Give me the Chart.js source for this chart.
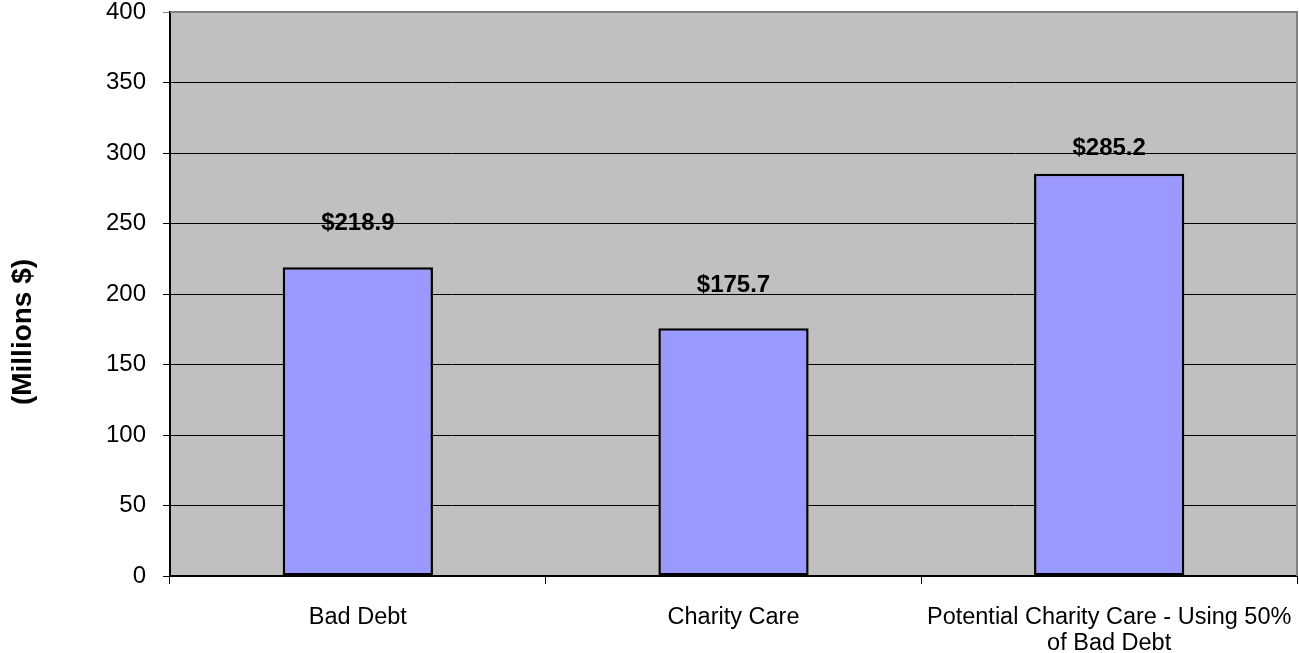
<!DOCTYPE html>
<html>
<head>
<meta charset="utf-8">
<script src="https://cdn.jsdelivr.net/npm/chart.js@4.4.1/dist/chart.umd.min.js"></script>
<style>
    html, body { margin: 0; padding: 0; background: #ffffff; }
    #wrap { width: 1299px; height: 653px; }
</style>
</head>
<body>
<div id="wrap"><canvas id="debtChart" width="1299" height="653"></canvas></div>
<script>
// chart data
const categories = ['Bad Debt', 'Charity Care', ['Potential Charity Care - Using 50%', 'of Bad Debt']];
const amounts = [218.9, 175.7, 285.2];
const amountLabels = ['$218.9', '$175.7', '$285.2'];
const yTicks = [0, 50, 100, 150, 200, 250, 300, 350, 400];
const yTitle = '(Millions $)';

// how far above each bar its label sits (px)
const labelOffsets = [44, 43, 25];

const FONT = '"Liberation Sans", Arial, sans-serif';

// gray plot background + border, drawn before the datasets
const plotBackground = {
    id: 'plotBackground',
    beforeDraw(chart) {
        const { ctx, chartArea } = chart;
        ctx.save();
        ctx.fillStyle = '#c0c0c0';
        ctx.fillRect(chartArea.left, chartArea.top, chartArea.right - chartArea.left, chartArea.bottom - chartArea.top);
        ctx.restore();
    },
    afterDatasetsDraw(chart) {
        const { ctx, chartArea } = chart;
        ctx.save();
        ctx.strokeStyle = '#808080';
        ctx.lineWidth = 2;
        ctx.beginPath();
        ctx.moveTo(chartArea.left, chartArea.top);
        ctx.lineTo(chartArea.right, chartArea.top);
        ctx.lineTo(chartArea.right, chartArea.bottom);
        ctx.stroke();
        ctx.restore();
    }
};

// value labels above the bars and the rotated y title
const barLabels = {
    id: 'barLabels',
    afterDraw(chart) {
        const { ctx } = chart;
        const meta = chart.getDatasetMeta(0);
        ctx.save();
        ctx.fillStyle = '#000000';
        ctx.font = 'bold 24px ' + FONT;
        ctx.textAlign = 'center';
        ctx.textBaseline = 'middle';
        meta.data.forEach((bar, i) => {
            ctx.fillText(amountLabels[i], bar.x, bar.y - labelOffsets[i]);
        });

        ctx.translate(23, 332);
        ctx.rotate(-Math.PI / 2);
        ctx.font = 'bold 28px ' + FONT;
        ctx.fillText(yTitle, 0, 0);
        ctx.restore();
    }
};

// keep the plot area where the original has it
function noScalePadding(scale) {
    scale.paddingTop = 0;
    scale.paddingBottom = 0;
    scale.paddingLeft = 0;
    scale.paddingRight = 0;
}

function renderChart() {
    const ctx = document.getElementById('debtChart').getContext('2d');

    new Chart(ctx, {
        type: 'bar',
        data: {
            labels: categories,
            datasets: [{
                data: amounts,
                backgroundColor: '#9999ff',
                borderColor: '#000000',
                borderWidth: 2.5,
                borderSkipped: false,
                categoryPercentage: 1.0,
                barPercentage: 0.4
            }]
        },
        options: {
            responsive: false,
            animation: false,
            layout: { padding: { top: 12, right: 2, left: 0, bottom: 0 } },
            plugins: {
                legend: { display: false },
                tooltip: { enabled: false }
            },
            scales: {
                x: {
                    grid: {
                        offset: true,
                        drawOnChartArea: false,
                        drawTicks: true,
                        tickLength: 8,
                        color: '#000000'
                    },
                    border: { color: '#000000', width: 2 },
                    ticks: {
                        color: '#000000',
                        font: { family: FONT, size: 23.5, lineHeight: 1.1 },
                        padding: 21,
                        maxRotation: 0,
                        autoSkip: false
                    },
                    afterFit(scale) {
                        scale.height = 77;
                        noScalePadding(scale);
                    }
                },
                y: {
                    min: 0,
                    max: 400,
                    afterBuildTicks(scale) {
                        scale.ticks = yTicks.map(v => ({ value: v }));
                    },
                    grid: {
                        color: ctx => ctx.tick && ctx.tick.value === 400 ? '#808080' : '#000000',
                        lineWidth: 1,
                        tickLength: 7
                    },
                    border: { color: '#000000', width: 2 },
                    ticks: {
                        color: '#000000',
                        font: { family: FONT, size: 24 },
                        padding: 17
                    },
                    afterFit(scale) {
                        scale.width = 170;
                        noScalePadding(scale);
                    }
                }
            }
        },
        plugins: [plotBackground, barLabels]
    });
}

document.addEventListener('DOMContentLoaded', renderChart);
</script>
</body>
</html>
